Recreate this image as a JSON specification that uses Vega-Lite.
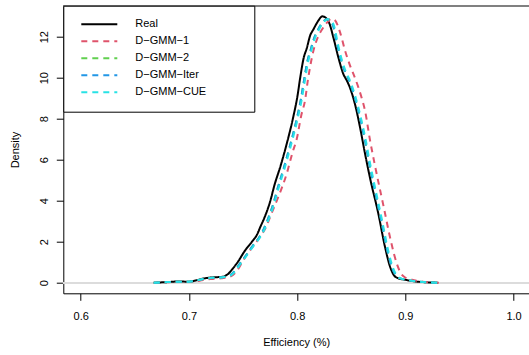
{
  "$schema": "https://vega.github.io/schema/vega-lite/v6.json",
  "width": 465.7,
  "height": 287.6,
  "autosize": {"type": "none"},
  "padding": {"left": 63.3, "top": 5.7, "right": 0, "bottom": 61.7},
  "background": "#ffffff",
  "config": {
    "view": {"stroke": null},
    "font": "Liberation Sans",
    "axis": {
      "domainColor": "#000000", "domainWidth": 1,
      "tickColor": "#000000", "tickSize": 7, "tickWidth": 1,
      "labelColor": "#000000", "titleColor": "#000000",
      "labelFont": "Liberation Sans", "titleFont": "Liberation Sans",
      "labelFontSize": 11, "titleFontSize": 11, "titleFontWeight": "normal",
      "grid": false
    },
    "legend": {
      "orient": "none", "legendX": 0, "legendY": 0,
      "fillColor": "#ffffff", "strokeColor": "#000000", "strokeWidth": 1,
      "padding": 10.5, "symbolType": "stroke", "symbolSize": 1296, "symbolStrokeWidth": 2,
      "symbolOffset": 6.5, "labelOffset": 17, "clipHeight": 16.25, "rowPadding": -1,
      "labelFont": "Liberation Sans", "labelFontSize": 11, "labelColor": "#000000",
      "titleOrient": "right", "titlePadding": 38
    }
  },
  "data": {"values": [
    {"s":"Real","x":0.6675,"y":0},{"s":"Real","x":0.68,"y":0.03},{"s":"Real","x":0.69,"y":0.06},{"s":"Real","x":0.70,"y":0.05},{"s":"Real","x":0.707,"y":0.12},{"s":"Real","x":0.714,"y":0.21},{"s":"Real","x":0.722,"y":0.26},{"s":"Real","x":0.731,"y":0.29},{"s":"Real","x":0.736,"y":0.42},{"s":"Real","x":0.741,"y":0.72},{"s":"Real","x":0.745,"y":1.0},{"s":"Real","x":0.752,"y":1.58},{"s":"Real","x":0.758,"y":1.98},{"s":"Real","x":0.763,"y":2.35},{"s":"Real","x":0.766,"y":2.72},{"s":"Real","x":0.770,"y":3.2},{"s":"Real","x":0.775,"y":3.95},{"s":"Real","x":0.779,"y":4.75},{"s":"Real","x":0.785,"y":5.75},{"s":"Real","x":0.790,"y":6.7},{"s":"Real","x":0.7965,"y":8.1},{"s":"Real","x":0.8003,"y":9.1},{"s":"Real","x":0.803,"y":10.05},{"s":"Real","x":0.806,"y":10.95},{"s":"Real","x":0.809,"y":11.45},{"s":"Real","x":0.812,"y":12.05},{"s":"Real","x":0.815,"y":12.35},{"s":"Real","x":0.8196,"y":12.78},{"s":"Real","x":0.8232,"y":12.99},{"s":"Real","x":0.8265,"y":12.92},{"s":"Real","x":0.83,"y":12.62},{"s":"Real","x":0.8335,"y":11.96},{"s":"Real","x":0.8381,"y":10.99},{"s":"Real","x":0.8427,"y":10.18},{"s":"Real","x":0.846,"y":9.85},{"s":"Real","x":0.8489,"y":9.5},{"s":"Real","x":0.8535,"y":8.7},{"s":"Real","x":0.8581,"y":7.59},{"s":"Real","x":0.862,"y":6.5},{"s":"Real","x":0.8674,"y":5.1},{"s":"Real","x":0.875,"y":3.38},{"s":"Real","x":0.8812,"y":1.75},{"s":"Real","x":0.8859,"y":0.78},{"s":"Real","x":0.889,"y":0.4},{"s":"Real","x":0.892,"y":0.25},{"s":"Real","x":0.9013,"y":0.13},{"s":"Real","x":0.91,"y":0.06},{"s":"Real","x":0.92,"y":0.02},{"s":"Real","x":0.93,"y":0},

    {"s":"D−GMM−1","x":0.6675,"y":0},{"s":"D−GMM−1","x":0.68,"y":0.02},{"s":"D−GMM−1","x":0.69,"y":0.05},{"s":"D−GMM−1","x":0.70,"y":0.04},{"s":"D−GMM−1","x":0.71,"y":0.1},{"s":"D−GMM−1","x":0.72,"y":0.18},{"s":"D−GMM−1","x":0.73,"y":0.22},{"s":"D−GMM−1","x":0.738,"y":0.29},{"s":"D−GMM−1","x":0.744,"y":0.55},{"s":"D−GMM−1","x":0.7503,"y":1.1},{"s":"D−GMM−1","x":0.756,"y":1.55},{"s":"D−GMM−1","x":0.7657,"y":2.24},{"s":"D−GMM−1","x":0.772,"y":2.8},{"s":"D−GMM−1","x":0.775,"y":3.21},{"s":"D−GMM−1","x":0.7826,"y":4.18},{"s":"D−GMM−1","x":0.7904,"y":5.32},{"s":"D−GMM−1","x":0.796,"y":6.4},{"s":"D−GMM−1","x":0.7996,"y":7.0},{"s":"D−GMM−1","x":0.804,"y":8.2},{"s":"D−GMM−1","x":0.8073,"y":8.89},{"s":"D−GMM−1","x":0.81,"y":9.9},{"s":"D−GMM−1","x":0.8119,"y":10.5},{"s":"D−GMM−1","x":0.815,"y":11.3},{"s":"D−GMM−1","x":0.819,"y":11.95},{"s":"D−GMM−1","x":0.823,"y":12.35},{"s":"D−GMM−1","x":0.827,"y":12.65},{"s":"D−GMM−1","x":0.832,"y":12.88},{"s":"D−GMM−1","x":0.835,"y":12.8},{"s":"D−GMM−1","x":0.8397,"y":12.21},{"s":"D−GMM−1","x":0.8443,"y":11.32},{"s":"D−GMM−1","x":0.8489,"y":10.59},{"s":"D−GMM−1","x":0.853,"y":10.05},{"s":"D−GMM−1","x":0.8566,"y":9.53},{"s":"D−GMM−1","x":0.86,"y":8.95},{"s":"D−GMM−1","x":0.8627,"y":8.4},{"s":"D−GMM−1","x":0.8674,"y":6.94},{"s":"D−GMM−1","x":0.872,"y":5.7},{"s":"D−GMM−1","x":0.88,"y":3.7},{"s":"D−GMM−1","x":0.887,"y":1.95},{"s":"D−GMM−1","x":0.892,"y":0.95},{"s":"D−GMM−1","x":0.896,"y":0.45},{"s":"D−GMM−1","x":0.90,"y":0.25},{"s":"D−GMM−1","x":0.908,"y":0.12},{"s":"D−GMM−1","x":0.916,"y":0.05},{"s":"D−GMM−1","x":0.923,"y":0.02},{"s":"D−GMM−1","x":0.931,"y":0},

    {"s":"D−GMM−2","x":0.6675,"y":0},{"s":"D−GMM−2","x":0.68,"y":0.03},{"s":"D−GMM−2","x":0.69,"y":0.05},{"s":"D−GMM−2","x":0.70,"y":0.05},{"s":"D−GMM−2","x":0.707,"y":0.11},{"s":"D−GMM−2","x":0.714,"y":0.19},{"s":"D−GMM−2","x":0.722,"y":0.24},{"s":"D−GMM−2","x":0.731,"y":0.27},{"s":"D−GMM−2","x":0.737,"y":0.33},{"s":"D−GMM−2","x":0.742,"y":0.55},{"s":"D−GMM−2","x":0.746,"y":0.85},{"s":"D−GMM−2","x":0.753,"y":1.35},{"s":"D−GMM−2","x":0.759,"y":1.8},{"s":"D−GMM−2","x":0.765,"y":2.22},{"s":"D−GMM−2","x":0.769,"y":2.6},{"s":"D−GMM−2","x":0.773,"y":3.1},{"s":"D−GMM−2","x":0.778,"y":3.85},{"s":"D−GMM−2","x":0.782,"y":4.6},{"s":"D−GMM−2","x":0.788,"y":5.65},{"s":"D−GMM−2","x":0.793,"y":6.6},{"s":"D−GMM−2","x":0.7995,"y":7.95},{"s":"D−GMM−2","x":0.8035,"y":8.95},{"s":"D−GMM−2","x":0.8065,"y":9.9},{"s":"D−GMM−2","x":0.8095,"y":10.8},{"s":"D−GMM−2","x":0.8125,"y":11.35},{"s":"D−GMM−2","x":0.8155,"y":11.9},{"s":"D−GMM−2","x":0.8185,"y":12.25},{"s":"D−GMM−2","x":0.823,"y":12.66},{"s":"D−GMM−2","x":0.8275,"y":12.85},{"s":"D−GMM−2","x":0.8305,"y":12.8},{"s":"D−GMM−2","x":0.834,"y":12.4},{"s":"D−GMM−2","x":0.8366,"y":11.72},{"s":"D−GMM−2","x":0.8412,"y":10.75},{"s":"D−GMM−2","x":0.845,"y":10.2},{"s":"D−GMM−2","x":0.8473,"y":9.95},{"s":"D−GMM−2","x":0.8505,"y":9.5},{"s":"D−GMM−2","x":0.8535,"y":9.0},{"s":"D−GMM−2","x":0.8581,"y":8.05},{"s":"D−GMM−2","x":0.8627,"y":6.94},{"s":"D−GMM−2","x":0.8665,"y":5.85},{"s":"D−GMM−2","x":0.87,"y":4.95},{"s":"D−GMM−2","x":0.8775,"y":3.1},{"s":"D−GMM−2","x":0.8835,"y":1.55},{"s":"D−GMM−2","x":0.888,"y":0.7},{"s":"D−GMM−2","x":0.891,"y":0.38},{"s":"D−GMM−2","x":0.8945,"y":0.22},{"s":"D−GMM−2","x":0.903,"y":0.12},{"s":"D−GMM−2","x":0.911,"y":0.06},{"s":"D−GMM−2","x":0.92,"y":0.02},{"s":"D−GMM−2","x":0.93,"y":0},

    {"s":"D−GMM−Iter","x":0.6675,"y":0},{"s":"D−GMM−Iter","x":0.68,"y":0.03},{"s":"D−GMM−Iter","x":0.69,"y":0.05},{"s":"D−GMM−Iter","x":0.70,"y":0.05},{"s":"D−GMM−Iter","x":0.707,"y":0.11},{"s":"D−GMM−Iter","x":0.714,"y":0.19},{"s":"D−GMM−Iter","x":0.722,"y":0.24},{"s":"D−GMM−Iter","x":0.731,"y":0.27},{"s":"D−GMM−Iter","x":0.737,"y":0.33},{"s":"D−GMM−Iter","x":0.742,"y":0.55},{"s":"D−GMM−Iter","x":0.746,"y":0.85},{"s":"D−GMM−Iter","x":0.753,"y":1.35},{"s":"D−GMM−Iter","x":0.759,"y":1.8},{"s":"D−GMM−Iter","x":0.765,"y":2.22},{"s":"D−GMM−Iter","x":0.769,"y":2.6},{"s":"D−GMM−Iter","x":0.773,"y":3.1},{"s":"D−GMM−Iter","x":0.778,"y":3.85},{"s":"D−GMM−Iter","x":0.782,"y":4.6},{"s":"D−GMM−Iter","x":0.788,"y":5.65},{"s":"D−GMM−Iter","x":0.793,"y":6.6},{"s":"D−GMM−Iter","x":0.7995,"y":7.95},{"s":"D−GMM−Iter","x":0.8035,"y":8.95},{"s":"D−GMM−Iter","x":0.8065,"y":9.9},{"s":"D−GMM−Iter","x":0.8095,"y":10.8},{"s":"D−GMM−Iter","x":0.8125,"y":11.35},{"s":"D−GMM−Iter","x":0.8155,"y":11.9},{"s":"D−GMM−Iter","x":0.8185,"y":12.25},{"s":"D−GMM−Iter","x":0.823,"y":12.66},{"s":"D−GMM−Iter","x":0.8275,"y":12.85},{"s":"D−GMM−Iter","x":0.8305,"y":12.8},{"s":"D−GMM−Iter","x":0.834,"y":12.4},{"s":"D−GMM−Iter","x":0.8366,"y":11.72},{"s":"D−GMM−Iter","x":0.8412,"y":10.75},{"s":"D−GMM−Iter","x":0.845,"y":10.2},{"s":"D−GMM−Iter","x":0.8473,"y":9.95},{"s":"D−GMM−Iter","x":0.8505,"y":9.5},{"s":"D−GMM−Iter","x":0.8535,"y":9.0},{"s":"D−GMM−Iter","x":0.8581,"y":8.05},{"s":"D−GMM−Iter","x":0.8627,"y":6.94},{"s":"D−GMM−Iter","x":0.8665,"y":5.85},{"s":"D−GMM−Iter","x":0.87,"y":4.95},{"s":"D−GMM−Iter","x":0.8775,"y":3.1},{"s":"D−GMM−Iter","x":0.8835,"y":1.55},{"s":"D−GMM−Iter","x":0.888,"y":0.7},{"s":"D−GMM−Iter","x":0.891,"y":0.38},{"s":"D−GMM−Iter","x":0.8945,"y":0.22},{"s":"D−GMM−Iter","x":0.903,"y":0.12},{"s":"D−GMM−Iter","x":0.911,"y":0.06},{"s":"D−GMM−Iter","x":0.92,"y":0.02},{"s":"D−GMM−Iter","x":0.93,"y":0},

    {"s":"D−GMM−CUE","x":0.6675,"y":0},{"s":"D−GMM−CUE","x":0.68,"y":0.03},{"s":"D−GMM−CUE","x":0.69,"y":0.05},{"s":"D−GMM−CUE","x":0.70,"y":0.05},{"s":"D−GMM−CUE","x":0.707,"y":0.11},{"s":"D−GMM−CUE","x":0.7145,"y":0.19},{"s":"D−GMM−CUE","x":0.7225,"y":0.24},{"s":"D−GMM−CUE","x":0.7315,"y":0.27},{"s":"D−GMM−CUE","x":0.7378,"y":0.33},{"s":"D−GMM−CUE","x":0.7428,"y":0.55},{"s":"D−GMM−CUE","x":0.7468,"y":0.85},{"s":"D−GMM−CUE","x":0.7538,"y":1.35},{"s":"D−GMM−CUE","x":0.7598,"y":1.8},{"s":"D−GMM−CUE","x":0.7658,"y":2.22},{"s":"D−GMM−CUE","x":0.7698,"y":2.6},{"s":"D−GMM−CUE","x":0.7738,"y":3.1},{"s":"D−GMM−CUE","x":0.7788,"y":3.85},{"s":"D−GMM−CUE","x":0.7828,"y":4.6},{"s":"D−GMM−CUE","x":0.7888,"y":5.65},{"s":"D−GMM−CUE","x":0.7938,"y":6.6},{"s":"D−GMM−CUE","x":0.8003,"y":7.95},{"s":"D−GMM−CUE","x":0.8043,"y":8.95},{"s":"D−GMM−CUE","x":0.8073,"y":9.9},{"s":"D−GMM−CUE","x":0.8103,"y":10.8},{"s":"D−GMM−CUE","x":0.8133,"y":11.35},{"s":"D−GMM−CUE","x":0.8163,"y":11.9},{"s":"D−GMM−CUE","x":0.8193,"y":12.25},{"s":"D−GMM−CUE","x":0.8238,"y":12.66},{"s":"D−GMM−CUE","x":0.8283,"y":12.85},{"s":"D−GMM−CUE","x":0.8313,"y":12.8},{"s":"D−GMM−CUE","x":0.8348,"y":12.4},{"s":"D−GMM−CUE","x":0.8374,"y":11.72},{"s":"D−GMM−CUE","x":0.842,"y":10.75},{"s":"D−GMM−CUE","x":0.8458,"y":10.2},{"s":"D−GMM−CUE","x":0.8481,"y":9.95},{"s":"D−GMM−CUE","x":0.8513,"y":9.5},{"s":"D−GMM−CUE","x":0.8543,"y":9.0},{"s":"D−GMM−CUE","x":0.8589,"y":8.05},{"s":"D−GMM−CUE","x":0.8635,"y":6.94},{"s":"D−GMM−CUE","x":0.8673,"y":5.85},{"s":"D−GMM−CUE","x":0.8708,"y":4.95},{"s":"D−GMM−CUE","x":0.8783,"y":3.1},{"s":"D−GMM−CUE","x":0.8843,"y":1.55},{"s":"D−GMM−CUE","x":0.8888,"y":0.7},{"s":"D−GMM−CUE","x":0.8918,"y":0.38},{"s":"D−GMM−CUE","x":0.8953,"y":0.22},{"s":"D−GMM−CUE","x":0.9035,"y":0.12},{"s":"D−GMM−CUE","x":0.9115,"y":0.06},{"s":"D−GMM−CUE","x":0.92,"y":0.02},{"s":"D−GMM−CUE","x":0.93,"y":0}
  ]},
  "layer": [
    {
      "mark": {"type": "rule", "color": "#dcdcdc", "strokeWidth": 1.5},
      "encoding": {"y": {"datum": 0, "type": "quantitative"}}
    },
    {
      "transform": [{"filter": "datum.s === 'Real'"}],
      "mark": {"type": "line", "strokeWidth": 2, "interpolate": "monotone"},
      "encoding": {
        "x": {"field": "x", "type": "quantitative",
              "scale": {"domain": [0.5839, 1.0143], "nice": false, "zero": false},
              "axis": {"title": "Efficiency (%)", "values": [0.6, 0.7, 0.8, 0.9, 1.0], "format": ".1f",
                       "labelPadding": 10, "titlePadding": 15, "labelFlush": false}},
        "y": {"field": "y", "type": "quantitative",
              "scale": {"domain": [-0.516, 13.51], "nice": false, "zero": false},
              "axis": {"title": "Density", "values": [0, 2, 4, 6, 8, 10, 12],
                       "labelAngle": 270, "labelAlign": "center", "labelBaseline": "bottom",
                       "labelPadding": 7, "titlePadding": 18, "labelFlush": false}},
        "color": {"field": "s", "type": "nominal", "title": " ",
                  "scale": {"domain": ["Real", "D−GMM−1", "D−GMM−2", "D−GMM−Iter", "D−GMM−CUE"],
                            "range": ["#000000", "#DF536B", "#61D04F", "#2297E6", "#28E2E5"]}},
        "strokeDash": {"field": "s", "type": "nominal", "title": " ",
                  "scale": {"domain": ["Real", "D−GMM−1", "D−GMM−2", "D−GMM−Iter", "D−GMM−CUE"],
                            "range": [[1, 0], [6, 5], [6, 5], [6, 5], [6, 5]]}}
      }
    },
    {
      "transform": [{"filter": "datum.s !== 'Real'"}],
      "mark": {"type": "line", "strokeWidth": 2, "interpolate": "monotone"},
      "encoding": {
        "x": {"field": "x", "type": "quantitative"},
        "y": {"field": "y", "type": "quantitative"},
        "color": {"field": "s", "type": "nominal", "title": " "},
        "strokeDash": {"field": "s", "type": "nominal", "title": " "}
      }
    },
    {
      "mark": {"type": "rule", "color": "#808080", "strokeWidth": 1.5},
      "encoding": {"y": {"datum": 13.51, "type": "quantitative"}}
    }
  ]
}
